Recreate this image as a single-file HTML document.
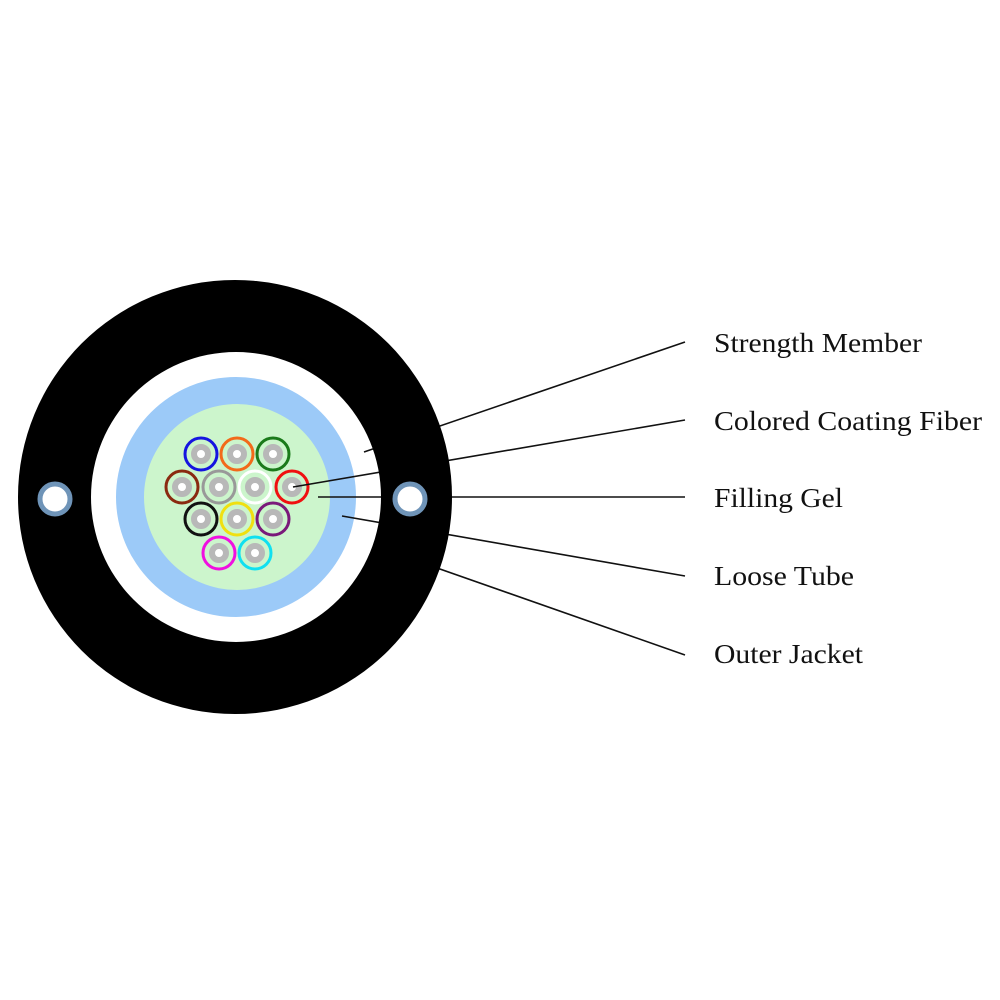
<!DOCTYPE html>
<html><head><meta charset="utf-8"><style>
html,body{margin:0;padding:0;background:#fff;}
svg{display:block}
text{font-family:"Liberation Serif",serif;font-size:27px;fill:#111;}
</style></head><body>
<svg width="1000" height="1000" viewBox="0 0 1000 1000" xmlns="http://www.w3.org/2000/svg">
<rect width="1000" height="1000" fill="#fff"/>
<circle cx="236" cy="497" r="145" fill="#fff"/>
<circle cx="236" cy="497" r="120" fill="#9ccaf8"/>
<circle cx="237" cy="497" r="93" fill="#ccf5cc"/>
<g stroke-width="3" fill="#ccf5cc">
<circle cx="201" cy="454" r="16" stroke="#1515e0"/>
<circle cx="237" cy="454" r="16" stroke="#f26a1a"/>
<circle cx="273" cy="454" r="16" stroke="#1a7a1a"/>
<circle cx="182" cy="487" r="16" stroke="#8a2a10"/>
<circle cx="219" cy="487" r="16" stroke="#999"/>
<circle cx="255" cy="487" r="16" stroke="#fff"/>
<circle cx="292" cy="487" r="16" stroke="#f01010"/>
<circle cx="201" cy="519" r="16" stroke="#111"/>
<circle cx="237" cy="519" r="16" stroke="#f0e010"/>
<circle cx="273" cy="519" r="16" stroke="#7a1a7a"/>
<circle cx="219" cy="553" r="16" stroke="#f010e0"/>
<circle cx="255" cy="553" r="16" stroke="#10e0f0"/>
</g>
<g fill="#fff" stroke="#b8b8b8" stroke-width="6">
<circle cx="201" cy="454" r="7"/><circle cx="237" cy="454" r="7"/><circle cx="273" cy="454" r="7"/>
<circle cx="182" cy="487" r="7"/><circle cx="219" cy="487" r="7"/><circle cx="255" cy="487" r="7"/><circle cx="292" cy="487" r="7"/>
<circle cx="201" cy="519" r="7"/><circle cx="237" cy="519" r="7"/><circle cx="273" cy="519" r="7"/>
<circle cx="219" cy="553" r="7"/><circle cx="255" cy="553" r="7"/>
</g>
<g stroke="#111" stroke-width="1.6">
<line x1="685" y1="342" x2="364" y2="452"/>
<line x1="685" y1="420" x2="293" y2="487"/>
<line x1="685" y1="497" x2="318" y2="497"/>
<line x1="685" y1="576" x2="342" y2="516"/>
<line x1="685" y1="655" x2="400" y2="555"/>
</g>
<path fill="#000" fill-rule="evenodd" d="M18,497 a217,217 0 1,0 434,0 a217,217 0 1,0 -434,0 Z M91,497 a145,145 0 1,0 290,0 a145,145 0 1,0 -290,0 Z"/>
<circle cx="55" cy="499" r="15" fill="#fff" stroke="#6f94b8" stroke-width="5"/>
<circle cx="410" cy="499" r="15" fill="#fff" stroke="#6f94b8" stroke-width="5"/>
<text x="714" y="352" textLength="208" lengthAdjust="spacingAndGlyphs">Strength Member</text>
<text x="714" y="430" textLength="268" lengthAdjust="spacingAndGlyphs">Colored Coating Fiber</text>
<text x="714" y="507" textLength="129" lengthAdjust="spacingAndGlyphs">Filling Gel</text>
<text x="714" y="585" textLength="140" lengthAdjust="spacingAndGlyphs">Loose Tube</text>
<text x="714" y="663" textLength="149" lengthAdjust="spacingAndGlyphs">Outer Jacket</text>
</svg>
</body></html>
